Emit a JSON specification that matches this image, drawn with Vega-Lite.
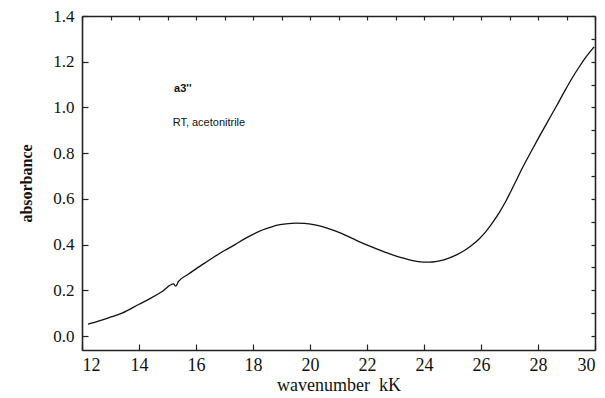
{
  "$schema": "https://vega.github.io/schema/vega-lite/v6.json",
  "width": 513,
  "height": 334,
  "autosize": {"type": "none"},
  "padding": {"left": 82, "top": 16, "right": 10, "bottom": 48},
  "background": "white",
  "resolve": {"axis": {"x": "independent", "y": "independent"}},
  "layer": [
    {
      "data": {"values": [
        {"k": 12.21, "abs": 0.052},
        {"k": 12.6, "abs": 0.066},
        {"k": 12.93, "abs": 0.080},
        {"k": 13.4, "abs": 0.100},
        {"k": 14.0, "abs": 0.139},
        {"k": 14.4, "abs": 0.165},
        {"k": 14.8, "abs": 0.194},
        {"k": 15.21, "abs": 0.228},
        {"k": 15.29, "abs": 0.218},
        {"k": 15.38, "abs": 0.238},
        {"k": 15.7, "abs": 0.268},
        {"k": 16.0, "abs": 0.294},
        {"k": 16.35, "abs": 0.323},
        {"k": 16.67, "abs": 0.349},
        {"k": 17.0, "abs": 0.374},
        {"k": 17.37, "abs": 0.400},
        {"k": 17.7, "abs": 0.425},
        {"k": 18.0, "abs": 0.445},
        {"k": 18.33, "abs": 0.464},
        {"k": 18.66, "abs": 0.478},
        {"k": 18.95, "abs": 0.487},
        {"k": 19.24, "abs": 0.492},
        {"k": 19.5, "abs": 0.494},
        {"k": 19.8, "abs": 0.493},
        {"k": 20.18, "abs": 0.486},
        {"k": 20.6, "abs": 0.472},
        {"k": 21.04, "abs": 0.452},
        {"k": 21.5, "abs": 0.426},
        {"k": 21.97, "abs": 0.400},
        {"k": 22.45, "abs": 0.376},
        {"k": 22.9, "abs": 0.355},
        {"k": 23.2, "abs": 0.343},
        {"k": 23.49, "abs": 0.333},
        {"k": 23.8, "abs": 0.326},
        {"k": 24.07, "abs": 0.323},
        {"k": 24.3, "abs": 0.324},
        {"k": 24.54, "abs": 0.329},
        {"k": 24.85, "abs": 0.340},
        {"k": 25.12, "abs": 0.354},
        {"k": 25.42, "abs": 0.374},
        {"k": 25.71, "abs": 0.400},
        {"k": 25.95, "abs": 0.427},
        {"k": 26.17, "abs": 0.457},
        {"k": 26.4, "abs": 0.495},
        {"k": 26.64, "abs": 0.540},
        {"k": 26.88, "abs": 0.592},
        {"k": 27.17, "abs": 0.664},
        {"k": 27.46, "abs": 0.737},
        {"k": 27.75, "abs": 0.805},
        {"k": 28.04, "abs": 0.871},
        {"k": 28.33, "abs": 0.936},
        {"k": 28.63, "abs": 1.002},
        {"k": 28.92, "abs": 1.068},
        {"k": 29.21, "abs": 1.131},
        {"k": 29.45, "abs": 1.178},
        {"k": 29.68, "abs": 1.220},
        {"k": 29.97, "abs": 1.265}
      ]},
      "mark": {"type": "line", "color": "#111", "strokeWidth": 1.3, "interpolate": "monotone"},
      "encoding": {
        "x": {
          "field": "k", "type": "quantitative",
          "scale": {"domain": [12, 30], "nice": false, "zero": false},
          "axis": {
            "orient": "bottom",
            "grid": false,
            "domainColor": "#222", "domainWidth": 1.6,
            "tickColor": "#222", "tickWidth": 1.2, "tickSize": -6,
            "values": [12,14,16,18,20,22,24,26,28,30],
            "format": "d",
            "labelFont": "Liberation Serif", "labelFontSize": 18, "labelColor": "#111",
            "labelPadding": 12,
            "title": "wavenumber\u00a0\u00a0kK",
            "titleFont": "Liberation Serif", "titleFontSize": 18, "titleFontWeight": "normal", "titleColor": "#111",
            "titlePadding": 2
          }
        },
        "y": {
          "field": "abs", "type": "quantitative",
          "scale": {"domain": [-0.061, 1.4], "nice": false, "zero": false},
          "axis": {
            "orient": "left",
            "grid": false,
            "domainColor": "#222", "domainWidth": 1.6,
            "tickColor": "#222", "tickWidth": 1.2, "tickSize": -6,
            "values": [0,0.2,0.4,0.6,0.8,1.0,1.2,1.4],
            "format": ".1f",
            "labelFont": "Liberation Serif", "labelFontSize": 17, "labelColor": "#111",
            "labelPadding": 14,
            "title": "absorbance",
            "titleFont": "Liberation Serif", "titleFontSize": 16, "titleFontWeight": "bold", "titleColor": "#111",
            "titlePadding": 18
          }
        }
      }
    },
    {
      "data": {"values": [{"k": 15.23, "abs": 1.069, "label": "a3''"}]},
      "mark": {"type": "text", "font": "Liberation Sans", "fontSize": 11, "fontWeight": "bold", "align": "left", "baseline": "alphabetic", "color": "#111"},
      "encoding": {
        "x": {
          "field": "k", "type": "quantitative",
          "axis": {
            "orient": "top", "title": null, "labels": false, "grid": false,
            "domainColor": "#222", "domainWidth": 1.6,
            "tickColor": "#222", "tickWidth": 1.2, "tickSize": -4,
            "values": [12,13,14,15,16,17,18,19,20,21,22,23,24,25,26,27,28,29,30]
          }
        },
        "y": {
          "field": "abs", "type": "quantitative",
          "axis": {
            "orient": "right", "title": null, "labels": false, "grid": false,
            "domainColor": "#222", "domainWidth": 1.6,
            "tickColor": "#222", "tickWidth": 1.2, "tickSize": -4,
            "values": [0,0.1,0.2,0.3,0.4,0.5,0.6,0.7,0.8,0.9,1.0,1.1,1.2,1.3,1.4]
          }
        },
        "text": {"field": "label"}
      }
    },
    {
      "data": {"values": [{"k": 15.18, "abs": 0.92, "label": "RT, acetonitrile"}]},
      "mark": {"type": "text", "font": "Liberation Sans", "fontSize": 11, "align": "left", "baseline": "alphabetic", "color": "#111"},
      "encoding": {
        "x": {"field": "k", "type": "quantitative", "axis": null},
        "y": {"field": "abs", "type": "quantitative", "axis": null},
        "text": {"field": "label"}
      }
    }
  ]
}
